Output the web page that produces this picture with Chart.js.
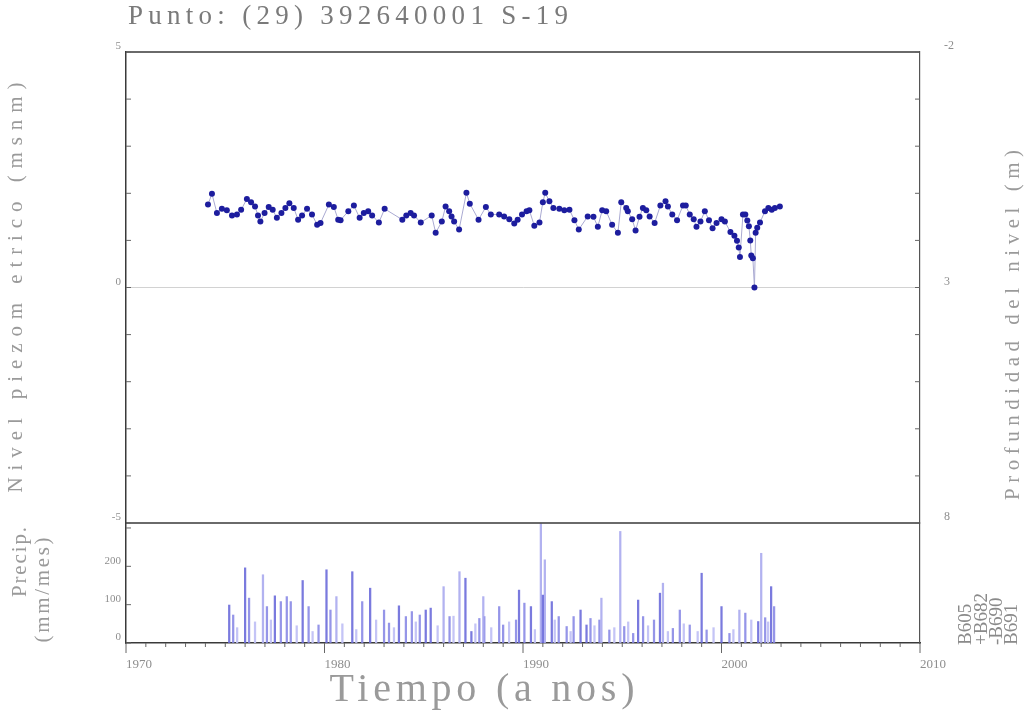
<!DOCTYPE html>
<html>
<head>
<meta charset="utf-8">
<script src="https://cdn.jsdelivr.net/npm/chart.js@4.4.1/dist/chart.umd.min.js"></script>
<style>
  html, body { margin: 0; padding: 0; background: #fff; }
  #wrap { width: 1031px; height: 725px; position: relative; }
</style>
</head>
<body>
<div id="wrap"><canvas id="c" width="1031" height="725"></canvas></div>
<script>
// Texts
const titleText = 'Punto: (29) 392640001 S-19';
const xTitle = 'Tiempo (a nos)';
const levelTitle = 'Nivel piezom etrico (msnm)';
const precipTitle = ['Precip.', '(mm/mes)'];
const depthTitle = 'Profundidad del nivel (m)';
const stationLabels = ['B605', '+B682', '-B690', 'B691'];

// Tick values
const yearTicks = [1970, 1980, 1990, 2000, 2010];
const levelTicks = [-5, 0, 5];
const depthTicks = [-2, 3, 8];
const precipTicks = [0, 100, 200];

// Piezometric level (m a.s.l.)
const levelYears = [
  1974.13, 1974.33, 1974.58, 1974.83, 1975.08, 1975.34, 1975.59, 1975.80, 1976.09, 1976.30,
  1976.50, 1976.65, 1976.77, 1976.98, 1977.19, 1977.39, 1977.60, 1977.83, 1978.03, 1978.23,
  1978.45, 1978.67, 1978.87, 1979.12, 1979.37, 1979.63, 1979.80, 1980.22, 1980.47, 1980.69,
  1980.81, 1981.20, 1981.48, 1981.77, 1981.98, 1982.20, 1982.40, 1982.74, 1983.03, 1983.92,
  1984.12, 1984.34, 1984.51, 1984.85, 1985.40, 1985.60, 1985.91, 1986.10, 1986.28, 1986.40,
  1986.53, 1986.78, 1987.15, 1987.32, 1987.76, 1988.13, 1988.38, 1988.80, 1989.05, 1989.31,
  1989.56, 1989.73, 1989.95, 1990.18, 1990.32, 1990.57, 1990.83, 1991.00, 1991.12, 1991.33,
  1991.53, 1991.83, 1992.08, 1992.34, 1992.59, 1992.81, 1993.26, 1993.55, 1993.77, 1993.99,
  1994.19, 1994.49, 1994.78, 1994.95, 1995.20, 1995.28, 1995.50, 1995.67, 1995.87, 1996.04,
  1996.21, 1996.38, 1996.63, 1996.92, 1997.18, 1997.30, 1997.52, 1997.76, 1998.06, 1998.20,
  1998.40, 1998.60, 1998.74, 1998.94, 1999.16, 1999.37, 1999.55, 1999.75, 2000.00, 2000.17,
  2000.45, 2000.65, 2000.78, 2000.87, 2000.93, 2001.08, 2001.20, 2001.30, 2001.38, 2001.45,
  2001.50, 2001.58, 2001.66, 2001.72, 2001.80, 2001.94, 2002.19, 2002.36, 2002.53, 2002.69,
  2002.94
];
const levelValues = [
  1.76, 1.99, 1.58, 1.67, 1.64, 1.53, 1.55, 1.65, 1.88, 1.81,
  1.72, 1.53, 1.40, 1.58, 1.71, 1.65, 1.48, 1.58, 1.69, 1.79,
  1.69, 1.44, 1.53, 1.67, 1.55, 1.33, 1.37, 1.76, 1.71, 1.44,
  1.43, 1.62, 1.74, 1.48, 1.58, 1.62, 1.53, 1.38, 1.67, 1.44,
  1.53, 1.58, 1.53, 1.38, 1.53, 1.16, 1.40, 1.72, 1.62, 1.51,
  1.40, 1.23, 2.01, 1.78, 1.44, 1.71, 1.55, 1.55, 1.51, 1.45,
  1.36, 1.44, 1.55, 1.62, 1.64, 1.31, 1.38, 1.81, 2.01, 1.83,
  1.69, 1.67, 1.64, 1.65, 1.43, 1.23, 1.51, 1.50, 1.29, 1.64,
  1.62, 1.33, 1.16, 1.81, 1.69, 1.62, 1.45, 1.21, 1.50, 1.69,
  1.64, 1.51, 1.37, 1.74, 1.83, 1.72, 1.55, 1.43, 1.74, 1.74,
  1.55, 1.45, 1.29, 1.40, 1.62, 1.43, 1.26, 1.37, 1.45, 1.40,
  1.18, 1.10, 0.99, 0.85, 0.65, 1.55, 1.55, 1.42, 1.30, 1.00,
  0.68, 0.62, 0.00, 1.16, 1.27, 1.38, 1.62, 1.69, 1.65, 1.69,
  1.72
];

// Monthly precipitation (mm/mes) per station
const b605Years = [1975.2, 1976.0, 1977.5, 1978.9, 1980.1, 1981.4, 1982.3, 1983.75, 1985.1, 1985.35,
  1987.1, 1987.4, 1989.8, 1990.4, 1991.0, 1991.45, 1992.9, 1993.2, 1995.8, 1996.9,
  1999.0, 2000.0, 2001.85, 2002.5];
const b605Values = [99, 196, 123, 163, 191, 186, 143, 97, 86, 91,
  169, 30, 138, 95, 125, 108, 86, 47, 112, 130,
  182, 95, 56, 147];

const b682Years = [1976.9, 1980.6, 1986.0, 1986.8, 1988.0, 1990.9, 1991.1, 1993.95, 1994.9, 1997.05,
  2000.9, 2002.0];
const b682Values = [178, 121, 147, 186, 121, 311, 217, 117, 291, 156,
  86, 234];

const b690Years = [1975.4, 1976.2, 1977.1, 1977.8, 1978.1, 1978.3, 1979.2, 1979.7, 1980.3, 1981.9,
  1983.0, 1983.25, 1984.1, 1984.4, 1984.8, 1986.3, 1987.8, 1988.05, 1988.8, 1989.0,
  1989.65, 1990.07, 1991.8, 1992.2, 1992.55, 1993.4, 1993.85, 1994.35, 1995.1, 1995.55,
  1996.05, 1996.6, 1997.55, 1997.9, 1998.4, 1999.25, 2000.4, 2001.2, 2002.2, 2002.65];
const b690Values = [73, 117, 95, 108, 121, 108, 95, 47, 86, 108,
  86, 52, 69, 82, 73, 69, 64, 69, 95, 47,
  60, 104, 69, 43, 69, 64, 60, 34, 43, 25,
  69, 60, 38, 86, 47, 34, 25, 78, 66, 95];

const b691Years = [1975.6, 1976.5, 1977.3, 1978.6, 1979.4, 1980.9, 1981.6, 1982.6, 1983.5, 1984.6,
  1985.7, 1986.5, 1987.6, 1988.4, 1989.3, 1990.6, 1991.6, 1992.4, 1993.6, 1994.6,
  1995.3, 1996.3, 1997.3, 1998.1, 1998.8, 1999.6, 2000.6, 2001.5, 2002.35];
const b691Values = [40, 55, 60, 45, 30, 50, 35, 60, 40, 55,
  45, 70, 50, 40, 55, 35, 60, 30, 45, 40,
  55, 45, 30, 50, 30, 40, 35, 60, 55];

const pts = (xs, ys) => xs.map((x, i) => ({ x: x, y: ys[i] }));
const SERIF = "'Liberation Serif', 'DejaVu Serif', serif";
const GREY = '#8e8e8e';
const AXIS = '#3a3a3a';

// Draws text stretched to a given length with letter spacing
function spacedText(ctx, text, x, y, length, align, rotate) {
  ctx.save();
  ctx.translate(x, y);
  if (rotate) ctx.rotate(-Math.PI / 2);
  ctx.letterSpacing = '0px';
  const w = ctx.measureText(text).width;
  const n = Math.max(text.length - 1, 1);
  const sp = Math.max((length - w) / n, 0);
  ctx.letterSpacing = sp + 'px';
  const total = w + sp * n;
  let sx = 0;
  if (align === 'center') sx = -total / 2;
  else if (align === 'right') sx = -total;
  ctx.textAlign = 'left';
  ctx.textBaseline = 'middle';
  ctx.fillText(text, sx, 0);
  ctx.restore();
}

const framePlugin = {
  id: 'frame',
  afterDatasetsDraw(chart) {
    const ctx = chart.ctx;
    const a = chart.chartArea;
    const s = chart.scales;
    ctx.save();
    // top border and panel separator
    ctx.strokeStyle = AXIS;
    ctx.lineWidth = 1.5;
    ctx.beginPath();
    ctx.moveTo(a.left, a.top); ctx.lineTo(a.right, a.top);
    const ySep = s.y.getPixelForValue(-5);
    ctx.moveTo(a.left, ySep); ctx.lineTo(a.right, ySep);
    ctx.stroke();

    // inward minor ticks
    ctx.lineWidth = 1;
    ctx.strokeStyle = '#666';
    ctx.beginPath();
    for (let v = -5; v <= 5; v++) {
      const py = s.y.getPixelForValue(v);
      ctx.moveTo(a.left, py); ctx.lineTo(a.left + 5, py);
    }
    for (let v = 0; v <= 300; v += 100) {
      const py = s.yP.getPixelForValue(v);
      ctx.moveTo(a.left, py); ctx.lineTo(a.left + 5, py);
    }
    for (let v = -2; v <= 8; v++) {
      const py = s.y2.getPixelForValue(v);
      ctx.moveTo(a.right, py); ctx.lineTo(a.right - 5, py);
    }
    for (let yr = 1970; yr <= 2010; yr++) {
      const px = s.x.getPixelForValue(yr);
      const len = yr % 10 === 0 ? 10 : 4;
      ctx.moveTo(px, a.bottom); ctx.lineTo(px, a.bottom + len);
    }
    ctx.stroke();
    ctx.restore();
  },
  afterDraw(chart) {
    const ctx = chart.ctx;
    const s = chart.scales;
    ctx.save();
    ctx.fillStyle = '#7a7a7a';
    ctx.font = '27px ' + SERIF;
    spacedText(ctx, titleText, 128, 17, 440, 'left', false);

    ctx.fillStyle = '#9a9a9a';
    ctx.font = '40px ' + SERIF;
    spacedText(ctx, xTitle, 482, 690, 305, 'center', false);

    ctx.font = '21px ' + SERIF;
    spacedText(ctx, levelTitle, 16, (s.y.top + s.y.bottom) / 2, 410, 'center', true);

    ctx.font = '21px ' + SERIF;
    spacedText(ctx, precipTitle[0], 20, 562, 70, 'center', true);
    spacedText(ctx, precipTitle[1], 43, 590, 105, 'center', true);

    ctx.font = '21px ' + SERIF;
    spacedText(ctx, depthTitle, 1013, 325, 350, 'center', true);

    ctx.fillStyle = '#8a8a8a';
    ctx.font = '19px ' + SERIF;
    const lx = [966, 982, 997, 1012];
    stationLabels.forEach((t, i) => {
      spacedText(ctx, t, lx[i], 645, 0, 'left', true);
    });
    ctx.restore();
  }
};

const barCommon = { type: 'bar', yAxisID: 'yP', xAxisID: 'x', barThickness: 1.6, grouped: false, borderWidth: 0 };

new Chart(document.getElementById('c'), {
  type: 'line',
  data: {
    datasets: [
      Object.assign({ label: 'B691', data: pts(b691Years, b691Values), backgroundColor: 'rgba(190,190,245,0.9)', order: 5 }, barCommon),
      Object.assign({ label: 'B690', data: pts(b690Years, b690Values), backgroundColor: 'rgba(130,130,228,0.85)', order: 4 }, barCommon),
      Object.assign({ label: 'B682', data: pts(b682Years, b682Values), backgroundColor: 'rgba(170,170,238,0.9)', order: 3 }, barCommon),
      Object.assign({ label: 'B605', data: pts(b605Years, b605Values), backgroundColor: 'rgba(108,108,218,0.9)', order: 2 }, barCommon),
      {
        type: 'line', label: 'Nivel', yAxisID: 'y', xAxisID: 'x',
        data: pts(levelYears, levelValues),
        borderColor: '#aaaad2', borderWidth: 1, tension: 0,
        pointRadius: 3, pointBackgroundColor: '#1d1d9e', pointBorderWidth: 0,
        order: 1
      }
    ]
  },
  options: {
    responsive: false,
    animation: false,
    events: [],
    layout: { padding: { top: 52, left: 0, right: 0, bottom: 0 } },
    plugins: { legend: { display: false }, tooltip: { enabled: false }, title: { display: false } },
    scales: {
      x: {
        type: 'linear', position: 'bottom', min: 1970, max: 2010, offset: false,
        grid: { display: false, offset: false, drawTicks: false },
        border: { display: true, color: AXIS, width: 1.5 },
        ticks: { align: 'start', color: GREY, font: { family: SERIF, size: 13 }, padding: 14, callback: v => String(v) },
        afterBuildTicks: sc => { sc.ticks = yearTicks.map(v => ({ value: v })); },
        afterFit: sc => { sc.height = 82; }
      },
      y: {
        type: 'linear', position: 'left', stack: 'left', stackWeight: 471, weight: 1,
        min: -5, max: 5,
        grid: { drawTicks: false, lineWidth: 1, color: c => (c.tick && c.tick.value === 0) ? '#d2d2d2' : 'rgba(0,0,0,0)' },
        border: { display: true, color: AXIS, width: 1.5 },
        ticks: { align: 'end', color: GREY, font: { family: SERIF, size: 11 }, padding: 5 },
        afterBuildTicks: sc => { sc.ticks = levelTicks.map(v => ({ value: v })); },
        afterFit: sc => { sc.width = 126; }
      },
      yP: {
        type: 'linear', position: 'left', stack: 'left', stackWeight: 120, weight: 0,
        min: 0, max: 313,
        grid: { display: false, drawTicks: false },
        border: { display: true, color: AXIS, width: 1.5 },
        ticks: { align: 'end', color: GREY, font: { family: SERIF, size: 11 }, padding: 5 },
        afterBuildTicks: sc => { sc.ticks = precipTicks.map(v => ({ value: v })); },
        afterFit: sc => { sc.width = 126; }
      },
      y2: {
        type: 'linear', position: 'right', stack: 'right', stackWeight: 471, weight: 0,
        min: -2, max: 8, reverse: true,
        grid: { display: false, drawTicks: false },
        border: { display: true, color: '#555', width: 1.2 },
        ticks: { align: 'end', color: GREY, font: { family: SERIF, size: 12 }, padding: 24 },
        afterBuildTicks: sc => { sc.ticks = depthTicks.map(v => ({ value: v })); },
        afterFit: sc => { sc.width = 111; }
      },
      y2b: {
        type: 'linear', position: 'right', stack: 'right', stackWeight: 120, weight: 1,
        min: 0, max: 1,
        grid: { display: false, drawTicks: false },
        border: { display: true, color: '#555', width: 1.2 },
        ticks: { display: false },
        afterFit: sc => { sc.width = 111; }
      }
    }
  },
  plugins: [framePlugin]
});
</script>
</body>
</html>
